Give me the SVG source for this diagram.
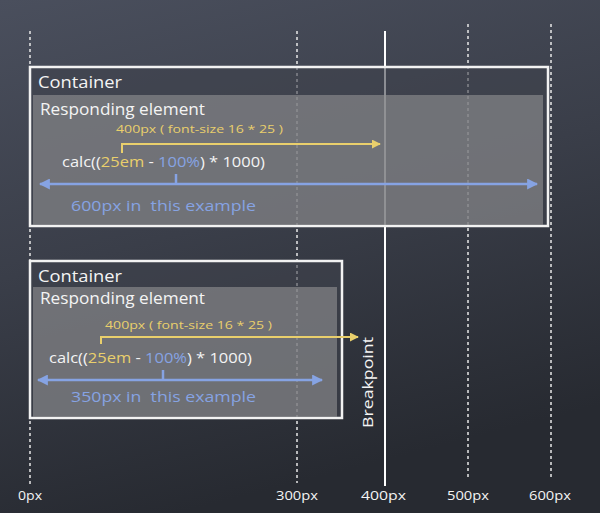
<svg xmlns="http://www.w3.org/2000/svg" width="600" height="513" viewBox="0 0 600 513">
<defs>
<linearGradient id="bg" x1="0" y1="0" x2="0.3" y2="1">
<stop offset="0" stop-color="#4a4f5d"/>
<stop offset="0.5" stop-color="#3a3e49"/>
<stop offset="1" stop-color="#272a31"/>
</linearGradient>
<marker id="ay" viewBox="0 0 10 10" refX="9" refY="5" markerWidth="9" markerHeight="9" markerUnits="userSpaceOnUse" orient="auto">
<path d="M0,0 L10,5 L0,10 Z" fill="#e9cf6c"/>
</marker>
<marker id="ab" viewBox="0 0 10 10" refX="9" refY="5" markerWidth="11" markerHeight="11" markerUnits="userSpaceOnUse" orient="auto-start-reverse">
<path d="M0,0 L10,5 L0,10 Z" fill="#86a3e3"/>
</marker>
</defs>
<style>
.grid{stroke:#e8e8e8;stroke-width:1.5;stroke-dasharray:3 3;fill:none}
.box{fill:#40434c;fill-opacity:0.6;stroke:#f2f2f2;stroke-width:2.5}
.resp{fill:#939395;fill-opacity:0.6}
.t{font-family:"Open Sans","Liberation Sans",sans-serif;fill:#f4f4f4;white-space:pre}
.y{fill:#e9cf6c}
.b{fill:#86a3e3}
.ly{stroke:#e9cf6c;stroke-width:2;fill:none}
.lb{stroke:#86a3e3;stroke-width:2.5;fill:none}
</style>
<rect width="600" height="513" fill="url(#bg)"/>
<g id="axis">
<line class="grid" x1="30" y1="31" x2="30" y2="485"/>
<line class="grid" x1="297" y1="31" x2="297" y2="483"/>
<line class="grid" x1="468" y1="24" x2="468" y2="477"/>
<line class="grid" x1="551" y1="24" x2="551" y2="477"/>
<line x1="385" y1="31" x2="385" y2="486" stroke="#ffffff" stroke-width="2"/>
<text class="t" x="18" y="500" font-size="12" textLength="24" lengthAdjust="spacingAndGlyphs">0px</text>
<text class="t" x="276" y="500" font-size="12" textLength="42" lengthAdjust="spacingAndGlyphs">300px</text>
<text class="t" x="361" y="500" font-size="12" textLength="45" lengthAdjust="spacingAndGlyphs">400px</text>
<text class="t" x="447" y="500" font-size="12" textLength="42" lengthAdjust="spacingAndGlyphs">500px</text>
<text class="t" x="529" y="500" font-size="12" textLength="42" lengthAdjust="spacingAndGlyphs">600px</text>
</g>
<g id="container1">
<rect class="box" x="30" y="67" width="518" height="159"/>
<rect class="resp" x="33" y="95" width="510" height="130"/>
<text class="t" x="38" y="88" font-size="16" textLength="84" lengthAdjust="spacingAndGlyphs">Container</text>
<text class="t" x="40" y="115" font-size="16" textLength="165" lengthAdjust="spacingAndGlyphs">Responding element</text>
<text class="t y" x="116" y="133" font-size="11" textLength="167" lengthAdjust="spacingAndGlyphs">400px ( font-size 16 * 25 )</text>
<text class="t" x="62" y="167" font-size="14" textLength="203" lengthAdjust="spacingAndGlyphs">calc((<tspan class="y">25em</tspan> - <tspan class="b">100%</tspan>) * 1000)</text>
<text class="t b" x="71" y="211" font-size="14" textLength="185" lengthAdjust="spacingAndGlyphs">600px in  this example</text>
</g>
<g id="container2">
<rect class="box" x="30" y="261" width="312" height="157"/>
<rect class="resp" x="33" y="287" width="304" height="130"/>
<text class="t" x="38" y="282" font-size="16" textLength="84" lengthAdjust="spacingAndGlyphs">Container</text>
<text class="t" x="40" y="304" font-size="16" textLength="165" lengthAdjust="spacingAndGlyphs">Responding element</text>
<text class="t y" x="105" y="329" font-size="11" textLength="167" lengthAdjust="spacingAndGlyphs">400px ( font-size 16 * 25 )</text>
<text class="t" x="49" y="363" font-size="14" textLength="203" lengthAdjust="spacingAndGlyphs">calc((<tspan class="y">25em</tspan> - <tspan class="b">100%</tspan>) * 1000)</text>
<text class="t b" x="71" y="402" font-size="14" textLength="185" lengthAdjust="spacingAndGlyphs">350px in  this example</text>
</g>
<g id="breakpoint">
<text class="t" transform="translate(373,428) rotate(-90)" font-size="14" textLength="91" lengthAdjust="spacingAndGlyphs">Breakpoint</text>
</g>
<g id="connectors">
<path class="ly" d="M122,153 V144 H380" marker-end="url(#ay)"/>
<path class="lb" d="M40,184 H537" marker-start="url(#ab)" marker-end="url(#ab)"/>
<line class="lb" x1="176" y1="174" x2="176" y2="184" stroke-width="2"/>
<path class="ly" d="M101,344 V337 H358" marker-end="url(#ay)"/>
<path class="lb" d="M38,380 H322" marker-start="url(#ab)" marker-end="url(#ab)"/>
<line class="lb" x1="163" y1="370" x2="163" y2="380" stroke-width="2"/>
</g>
</svg>
